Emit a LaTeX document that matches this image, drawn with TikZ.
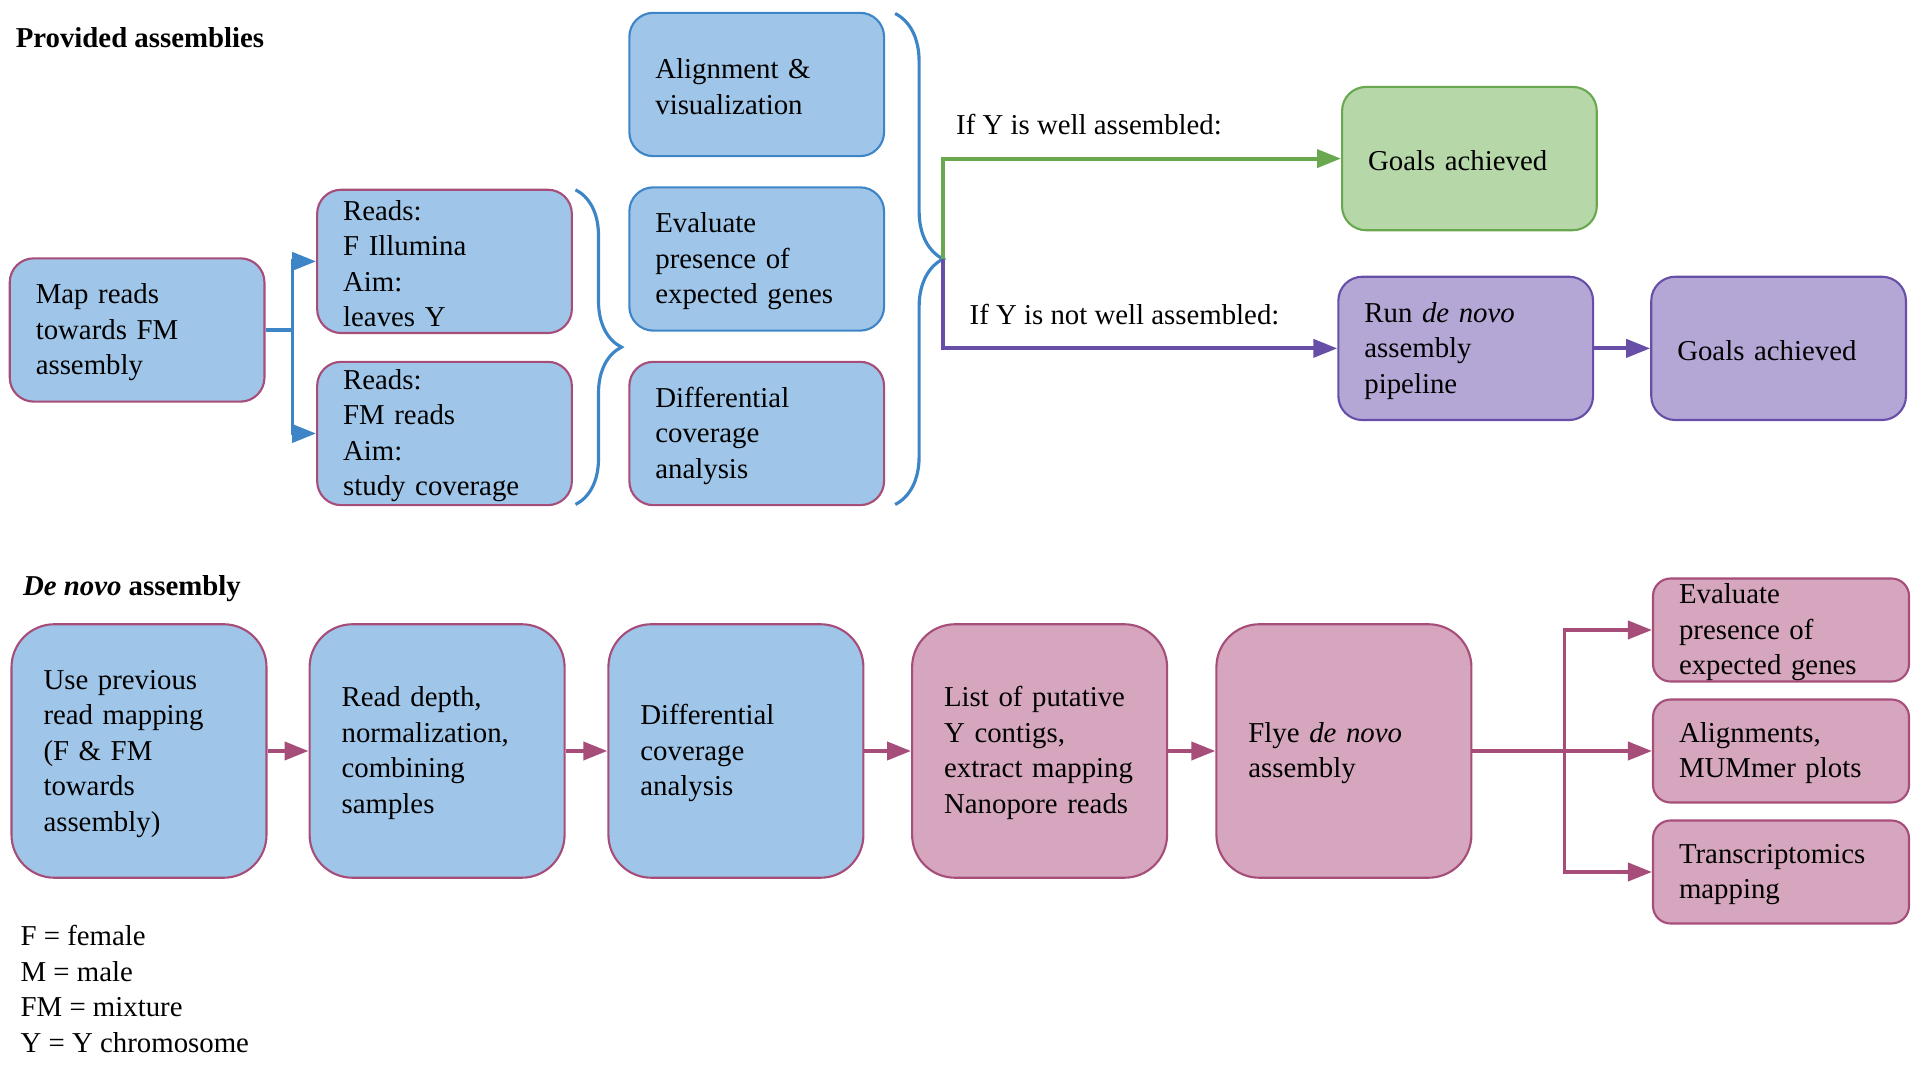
\documentclass[tikz,border=0pt]{standalone}
\usepackage{fontspec}
\setmainfont{Liberation Serif}
\usetikzlibrary{arrows.meta,decorations.pathreplacing}
\definecolor{bfill}{HTML}{9FC5E8}
\definecolor{bline}{HTML}{3D85C6}
\definecolor{pline}{HTML}{A64D79}
\definecolor{pfill}{HTML}{D5A6BD}
\definecolor{gfill}{HTML}{B6D7A8}
\definecolor{gline}{HTML}{6AA84F}
\definecolor{vfill}{HTML}{B4A7D6}
\definecolor{vline}{HTML}{674EA7}
\newcommand{\topgap}{\rule{0pt}{7pt}}
\begin{document}
\begin{tikzpicture}[line width=0.6pt,
top node/.style={rectangle,rounded corners=0.24cm,draw,minimum width=2.547cm,minimum height=1.433cm,text width=2.027cm,inner xsep=0.26cm,inner ysep=0.5pt,align=left,execute at begin node=\topgap},
low node/.style={rectangle,rounded corners=0.43cm,draw=pline,fill=bfill,minimum width=2.55cm,minimum height=2.535cm,text width=1.91cm,inner xsep=0.32cm,inner ysep=0.5pt,align=left,execute at begin node=\topgap},
side node/.style={rectangle,rounded corners=0.175cm,draw=pline,fill=pfill,minimum width=2.56cm,minimum height=1.03cm,text width=2.04cm,inner xsep=0.26cm,inner ysep=0pt,align=left,execute at begin node=\topgap},
arr/.style={line width=1.1pt,-{Triangle[length=2.4mm,width=1.8mm]}},
brc/.style={bline,line width=0.9pt,decorate,decoration={brace,amplitude=0.46cm}}]
\useasboundingbox (0,0) rectangle (19.2,10.8);
\begin{scope}[every node/.style={font=\fontsize{8.2}{10.1}\selectfont}]
\node[anchor=west,inner sep=0] (ttop) at (0.147,10.42) {\bfseries Provided assemblies};%titles
\node[anchor=west,inner sep=0] (tlow) at (0.220,4.91) {\bfseries\itshape De novo\upshape{} assembly};
\node[top node,draw=pline,fill=bfill] (map) at (1.371,7.500) {Map reads\\towards FM\\assembly};%top row
\node[top node,draw=pline,fill=bfill] (rdF) at (4.445,8.186) {Reads:\\F Illumina\\Aim:\\leaves Y};
\node[top node,draw=pline,fill=bfill] (rdFM) at (4.445,6.465) {Reads:\\FM reads\\Aim:\\study coverage};
\node[top node,draw=bline,fill=bfill] (aln) at (7.567,9.955) {Alignment \&\\visualization};
\node[top node,draw=bline,fill=bfill] (evalA) at (7.567,8.210) {Evaluate\\presence of\\expected genes};
\node[top node,draw=pline,fill=bfill] (diffA) at (7.567,6.465) {Differential\\coverage\\analysis};
\node[top node,draw=gline,fill=gfill] (goalG) at (14.694,9.214) {Goals achieved};
\node[top node,draw=vline,fill=vfill] (runDN) at (14.657,7.316) {Run \textit{de novo}\\assembly\\pipeline};
\node[top node,draw=vline,fill=vfill] (goalP) at (17.786,7.316) {Goals achieved};
\node[anchor=west,inner sep=0] (lwell) at (9.551,9.551) {If Y is well assembled:};
\node[anchor=west,inner sep=0] (lnot) at (9.686,7.653) {If Y is not well assembled:};
\node[low node] (use) at (1.390,3.29) {Use previous\\read mapping\\(F \& FM\\towards\\assembly)};%bottom row
\node[low node] (depth) at (4.371,3.29) {Read depth,\\normalization,\\combining\\samples};
\node[low node] (diffB) at (7.359,3.29) {Differential\\coverage\\analysis};
\node[low node,fill=pfill] (list) at (10.396,3.29) {List of putative\\Y contigs,\\extract mapping\\Nanopore reads};
\node[low node,fill=pfill] (flye) at (13.439,3.29) {Flye \textit{de novo}\\assembly};
\node[side node] (evalB) at (17.810,4.50) {Evaluate\\presence of\\expected genes};
\node[side node] (alnB) at (17.810,3.29) {Alignments,\\MUMmer plots};
\node[side node] (trans) at (17.810,2.08) {Transcriptomics\\mapping};
\node[anchor=north west,inner sep=0,align=left] (key) at (0.196,1.555) {F = female\\M = male\\FM = mixture\\Y = Y chromosome};%legend
\end{scope}
\begin{scope}
\draw[arr,bline] (map.east) -- ++(0.27,0) |- (rdF);
\draw[arr,bline] (map.east) -- ++(0.27,0) |- (rdFM);
\draw[brc] (5.755,8.902) -- (5.755,5.755);
\draw[brc,decoration={brace,amplitude=0.48cm}] (8.951,10.665) -- (8.951,5.755);
\coordinate (bt) at (9.43,8.21);%brace tip
\draw[arr,gline] (bt) |- (goalG);
\draw[arr,vline] (bt) |- (runDN);
\draw[arr,vline] (runDN) edge (goalP);
\draw[arr,pline] (use) edge (depth) (depth) edge (diffB) (diffB) edge (list) (list) edge (flye);
\draw[arr,pline] (flye.east) -- ++(0.92,0) |- (evalB);
\draw[arr,pline] (flye) edge (alnB);
\draw[arr,pline] (flye.east) -- ++(0.92,0) |- (trans);
\end{scope}
\end{tikzpicture}
\end{document}
